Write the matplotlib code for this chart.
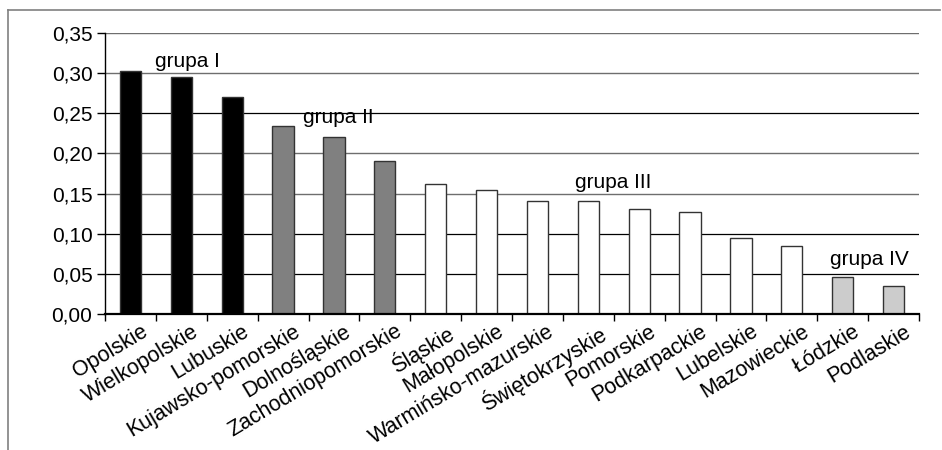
import matplotlib
matplotlib.use("Agg")
import matplotlib.pyplot as plt
from matplotlib.lines import Line2D
import matplotlib.transforms as mtransforms

regions = ["Opolskie", "Wielkopolskie", "Lubuskie", "Kujawsko-pomorskie", "Dolnośląskie",
           "Zachodniopomorskie", "Śląskie", "Małopolskie", "Warmińsko-mazurskie",
           "Świętokrzyskie", "Pomorskie", "Podkarpackie", "Lubelskie", "Mazowieckie",
           "Łódzkie", "Podlaskie"]
values = [0.303, 0.2955, 0.2705, 0.234, 0.2205, 0.191, 0.1615, 0.154, 0.1405,
          0.1405, 0.1305, 0.127, 0.0945, 0.085, 0.046, 0.035]
groups = [1, 1, 1, 2, 2, 2, 3, 3, 3, 3, 3, 3, 3, 3, 4, 4]
group_colors = {1: "#000000", 2: "#808080", 3: "#ffffff", 4: "#cccccc"}
group_labels = ["grupa I", "grupa II", "grupa III", "grupa IV"]
group_label_pos = [(0.48, 0.308), (3.40, 0.2385), (8.74, 0.1565), (13.75, 0.061)]
yticks = [0.00, 0.05, 0.10, 0.15, 0.20, 0.25, 0.30, 0.35]

plt.rcParams['font.family'] = ['Liberation Sans', 'DejaVu Sans']
FS = 15

fig = plt.figure(figsize=(9.42, 4.5), dpi=100)
ax = fig.add_axes([105/942, 1-314/450, (919-105)/942, (314-33)/450])

x = list(range(len(regions)))
ax.bar(x, values, width=0.42, color=[group_colors[g] for g in groups],
       edgecolor="#333333", linewidth=1.0, zorder=3)

ax.set_xlim(-0.5, len(regions) - 0.5)
ax.set_ylim(0, 0.35)
ax.set_yticks(yticks)
ax.set_yticklabels([f"{v:.2f}".replace(".", ",") for v in yticks], fontsize=FS)
ax.tick_params(axis='y', direction='out', length=5.5, width=1, pad=3.5, color='black')

ax.set_xticks(x)
ax.set_xticklabels(regions, fontsize=15.5, rotation=31, ha='right', va='top',
                   rotation_mode='anchor')
ax.tick_params(axis='x', which='major', length=0, pad=5)
ax.set_xticks([i - 0.5 for i in range(len(regions) + 1)], minor=True)
ax.tick_params(axis='x', which='minor', direction='out', length=5, width=1, color='black')
offset = mtransforms.ScaledTranslation(10/100, 0, fig.dpi_scale_trans)
for lab in ax.get_xticklabels():
    lab.set_transform(lab.get_transform() + offset)

ax.grid(axis='y', zorder=0)
grid_colors = ["#000000", "#000000", "#000000", "#6e6e6e", "#6e6e6e", "#000000", "#6e6e6e", "#6e6e6e"]
for gl, c in zip(ax.yaxis.get_gridlines(), grid_colors):
    gl.set_color(c)
    gl.set_linewidth(1.0 if c != "#000000" else 0.9)
ax.set_axisbelow(True)

for s in ["top", "right"]:
    ax.spines[s].set_visible(False)
ax.spines["left"].set_color("black")
ax.spines["left"].set_linewidth(1.0)
ax.spines["bottom"].set_color("black")
ax.spines["bottom"].set_linewidth(1.6)
ax.spines["bottom"].set_zorder(4)

for lbl, (px, py) in zip(group_labels, group_label_pos):
    ax.text(px, py, lbl, fontsize=FS, ha='left', va='baseline', zorder=5)

# outer frame
fig.add_artist(Line2D([8/942, 940/942], [1-10/450, 1-10/450], color="#808080", lw=1.2,
                      transform=fig.transFigure))
fig.add_artist(Line2D([8/942, 8/942], [1-10/450, 0], color="#808080", lw=1.2,
                      transform=fig.transFigure))

fig.savefig("out.png", dpi=100)
